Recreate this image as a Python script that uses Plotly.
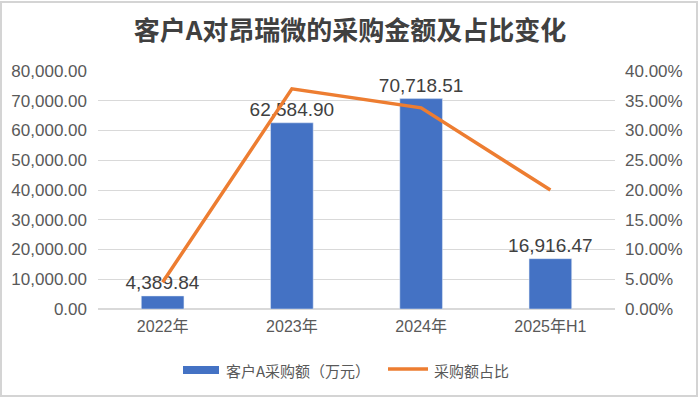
import plotly.graph_objects as go

categories = ["2022年", "2023年", "2024年", "2025年H1"]
purchase_amount = [4389.84, 62584.90, 70718.51, 16916.47]
purchase_share = [0.045, 0.370, 0.338, 0.200]
legend_names = ["客户A采购额（万元）", "采购额占比"]

FONT = "Liberation Sans, Noto Sans CJK SC, sans-serif"
BAR_C = "#4472C4"
LINE_C = "#ED7D31"

# plot area in pixels (for legend/border placement in paper coords)
PL, PR, PT, PB = 98, 615, 71, 309
def px(x):
    return (x - PL) / (PR - PL)
def py(y):
    return (PB - y) / (PB - PT)

fig = go.Figure()
fig.add_trace(go.Bar(
    x=categories, y=purchase_amount, name=legend_names[0],
    marker=dict(color=BAR_C), width=0.33,
    text=[f"{v:,.2f}" for v in purchase_amount], textposition="outside",
    textfont=dict(size=19, color="#404040", family=FONT),
    constraintext="none", cliponaxis=False, showlegend=False,
))
fig.add_trace(go.Scatter(
    x=categories, y=purchase_share, name=legend_names[1], yaxis="y2",
    mode="lines", line=dict(color=LINE_C, width=3.5), showlegend=False,
))

shapes = [
    dict(type="rect", xref="paper", yref="paper",
         x0=px(1), x1=px(697), y0=py(396), y1=py(2),
         line=dict(color="#D4D4D4", width=2), fillcolor="rgba(0,0,0,0)", layer="below"),
    dict(type="rect", xref="paper", yref="paper",
         x0=px(183), x1=px(219), y0=py(374), y1=py(366),
         line=dict(width=0), fillcolor=BAR_C),
    dict(type="line", xref="paper", yref="paper",
         x0=px(388), x1=px(428), y0=py(369), y1=py(369),
         line=dict(color=LINE_C, width=3.5)),
]
annotations = [
    dict(text=legend_names[0], xref="paper", yref="paper", x=px(224), y=py(370),
         xanchor="left", yanchor="middle", showarrow=False,
         font=dict(size=15, color="#595959", family="Noto Sans CJK SC, sans-serif")),
    dict(text=legend_names[1], xref="paper", yref="paper", x=px(432), y=py(370),
         xanchor="left", yanchor="middle", showarrow=False,
         font=dict(size=15, color="#595959", family="Noto Sans CJK SC, sans-serif")),
]

fig.update_layout(
    width=700, height=399,
    margin=dict(l=PL, r=700 - PR, t=PT, b=399 - PB),
    paper_bgcolor="white", plot_bgcolor="white",
    title=dict(text="<b>客户A对昂瑞微的采购金额及占比变化</b>", x=0.5, xanchor="center",
               y=1 - 31 / 399, yanchor="middle",
               font=dict(size=26, color="#404040", family="Noto Sans CJK SC, sans-serif")),
    font=dict(family=FONT, color="#595959", size=16),
    xaxis=dict(showgrid=False, showline=False, ticks="", ticklabelstandoff=6,
               tickfont=dict(size=16, color="#595959")),
    yaxis=dict(range=[0, 80000], dtick=10000, tickformat=",.2f", showgrid=True,
               gridcolor="#D9D9D9", gridwidth=1, zeroline=True, zerolinecolor="#D9D9D9",
               tickfont=dict(size=17, color="#595959"), ticks="", ticklabelstandoff=10),
    yaxis2=dict(range=[0, 0.4], dtick=0.05, tickformat=".2%", overlaying="y", side="right",
                showgrid=False, zeroline=False, ticklabelstandoff=9,
                tickfont=dict(size=17, color="#595959")),
    showlegend=False,
    shapes=shapes, annotations=annotations,
)

fig.write_html("out.html", config={"displayModeBar": False},
               post_script="document.body.style.margin='0';")
